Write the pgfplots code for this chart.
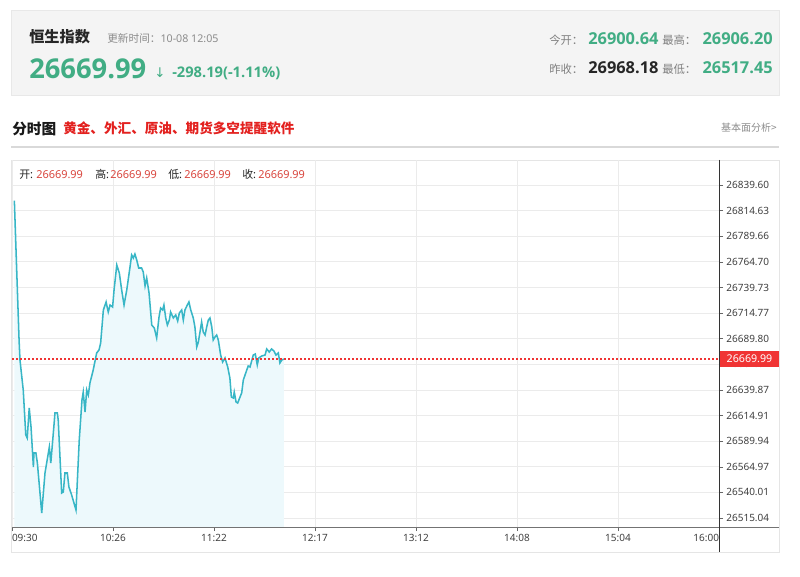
\documentclass[border=0pt]{standalone}
\usepackage{pgfplots}
\usepackage{pgfplotstable}
\pgfplotsset{compat=1.18}
\usepackage{fontspec}
\setmainfont{Noto Sans}
\newfontfamily\cjk{Noto Sans CJK SC}
\newfontfamily\numfont{Open Sans}
\newfontfamily\arrowfont{DejaVu Sans}
\newcommand\fs[1]{\fontsize{#1}{#1}\selectfont}

\definecolor{upgreen}{HTML}{41AD84}
\definecolor{titlered}{HTML}{E3211F}
\definecolor{legred}{HTML}{D9453D}
\definecolor{lastred}{HTML}{F03434}
\definecolor{linecyan}{HTML}{38B6C6}
\definecolor{fillcyan}{HTML}{EDF9FC}
\definecolor{gridgray}{HTML}{EBEBEB}
\definecolor{boxgray}{HTML}{F4F4F4}

% minutes after 09:30, index level
\pgfplotstableread{
t v
1.3 26824.3
3.9 26688.5
4.4 26669.0
6.2 26639.8
7.6 26595.9
8.4 26593.0
9.5 26622.3
10.5 26603.7
11.8 26564.7
12.1 26578.4
13.2 26578.4
14.0 26568.6
16.4 26519.9
18.2 26558.9
20.6 26584.2
21.4 26568.6
22.8 26597.9
23.7 26617.4
25.0 26617.4
25.5 26610.6
27.4 26539.4
28.3 26540.4
29.2 26558.9
30.5 26558.9
31.4 26545.3
32.9 26537.5
35.3 26522.8
37.1 26591.1
38.6 26630.0
39.3 26637.8
40.3 26618.4
41.2 26639.8
42.1 26634.9
43.0 26646.6
44.8 26659.3
46.7 26675.9
48.0 26678.8
48.9 26685.6
50.4 26717.8
51.9 26725.6
53.1 26715.8
54.1 26722.6
55.5 26720.7
56.3 26737.3
57.8 26761.6
59.2 26753.8
60.5 26737.3
61.8 26722.6
63.3 26737.3
65.1 26759.7
66.0 26771.4
66.9 26768.4
67.8 26772.3
68.8 26766.5
69.9 26758.7
71.5 26758.7
72.4 26754.8
73.4 26741.2
74.3 26749.0
75.6 26734.3
77.1 26703.1
78.5 26700.2
79.8 26690.5
81.1 26710.9
82.0 26719.7
83.1 26717.8
83.8 26722.6
84.8 26710.0
85.7 26703.1
86.8 26708.0
87.5 26715.8
89.0 26710.0
90.3 26712.9
91.4 26707.0
92.3 26714.8
93.6 26717.8
94.5 26708.0
95.4 26717.8
96.7 26722.6
97.6 26725.6
98.6 26717.8
100.0 26710.0
100.9 26701.2
101.9 26681.7
102.8 26686.6
103.7 26696.3
104.6 26706.1
105.5 26696.3
106.5 26693.4
107.4 26701.2
108.3 26708.0
109.2 26710.0
110.2 26701.2
111.0 26688.5
112.0 26691.5
112.9 26693.4
113.8 26688.5
115.1 26673.9
116.2 26667.1
117.5 26671.0
119.0 26662.2
120.2 26651.5
121.0 26633.0
122.1 26632.0
122.6 26637.8
123.6 26628.1
124.5 26627.1
125.8 26633.0
126.7 26636.9
127.6 26649.5
129.5 26659.3
130.3 26663.2
131.3 26662.2
133.1 26673.9
134.2 26674.9
135.3 26664.2
136.1 26671.0
137.7 26672.9
139.6 26673.9
140.5 26679.8
141.9 26676.8
143.2 26679.8
144.5 26677.8
145.6 26673.9
146.9 26675.9
147.8 26666.1
148.8 26669.0
150.0 26669.99
}\hsidata

\begin{document}
\begin{tikzpicture}
\begin{scope}[x=0.75pt,y=-0.75pt]
\useasboundingbox (0,0) rectangle (800,577);
\fill[white] (0,0) rectangle (800,577);
% header box
\draw[black!9,fill=boxgray] (11,10) rectangle (779,95);
\node[anchor=base west,inner sep=0,text=black!85] at (29,43) {\cjk\bfseries\fs{11.4}恒生指数};
\node[anchor=base west,inner sep=0,text=black!45] at (107,43) {\fs{8}{\cjk 更新时间：}10-08 12:05};
\node[anchor=base west,inner sep=0,text=upgreen] at (29,79) {\numfont\bfseries\fs{20.5}26669.99};
\node[anchor=base west,inner sep=0,text=upgreen] at (154,78) {\arrowfont\fs{10}↓};
\node[anchor=base west,inner sep=0,text=upgreen] at (172,78) {\numfont\bfseries\fs{11}-298.19(-1.11\%)};
\node[anchor=base west,inner sep=0,text=black!50] at (549,45) {\cjk\fs{8.5}今开：};
\node[anchor=base west,inner sep=0,text=upgreen] at (588,45) {\numfont\bfseries\fs{12.3}26900.64};
\node[anchor=base west,inner sep=0,text=black!50] at (662,45) {\cjk\fs{8.5}最高：};
\node[anchor=base east,inner sep=0,text=upgreen] at (773,45) {\numfont\bfseries\fs{12.3}26906.20};
\node[anchor=base west,inner sep=0,text=black!50] at (549,74) {\cjk\fs{8.5}昨收：};
\node[anchor=base west,inner sep=0,text=black!85] at (588,74) {\numfont\bfseries\fs{12.3}26968.18};
\node[anchor=base west,inner sep=0,text=black!50] at (662,74) {\cjk\fs{8.5}最低：};
\node[anchor=base east,inner sep=0,text=upgreen] at (773,74) {\numfont\bfseries\fs{12.3}26517.45};
% title row
\node[anchor=base west,inner sep=0,text=black!90] at (12,135) {\cjk\bfseries\fs{11}分时图};
\node[anchor=base west,inner sep=0,text=titlered] at (63,134) {\cjk\bfseries\fs{10.2}黄金、外汇、原油、期货多空提醒软件};
\node[anchor=base east,inner sep=0,text=black!45] at (777,132) {\cjk\fs{7.5}基本面分析>};
\draw[black!15,line width=1.2pt] (11,147) -- (779,147);
% chart panel
\draw[black!10] (11,160) rectangle (779,552);
\end{scope}

\begin{axis}[
  at={(9pt,-395.25pt)}, anchor=south west,
  scale only axis, width=530.25pt, height=275.25pt,
  xmin=0, xmax=390, ymin=26506.27, ymax=26863.97,
  axis x line*=bottom, axis y line*=right,
  axis line style={draw=none},
  scaled y ticks=false, scaled x ticks=false,
  grid=major, major grid style={gridgray,line width=0.6pt},
  tick align=outside, major tick length=3pt,
  tick style={black!60,line width=0.4pt},
  tick label style={font=\fs{7.5},text=black!75},
  xtick={0,55.714,111.429,167.143,222.857,278.571,334.286,390},
  xticklabels={\makebox[0pt][l]{09:30},10:26,11:22,12:17,13:12,14:08,15:04,\makebox[0pt][r]{16:00}},
  ytick={26515.04,26540.01,26564.97,26589.94,26614.91,26639.87,26664.84,26689.80,26714.77,26739.73,26764.70,26789.66,26814.63,26839.60},
  yticklabels={26515.04,26540.01,26564.97,26589.94,26614.91,26639.87,26664.84,26689.80,26714.77,26739.73,26764.70,26789.66,26814.63,26839.60},
  yticklabel style={anchor=west,xshift=-1pt},
  xticklabel style={yshift=1pt},
]
\addplot[draw=none,fill=fillcyan] table {\hsidata} \closedcycle;
\addplot[linecyan,line width=1.15pt] table {\hsidata};
% last-price reference line
\draw[color=lastred,dash pattern=on 1.5pt off 1.5pt,line width=0.8pt]
  (axis cs:0,26669.99) -- (axis cs:390,26669.99);
\end{axis}

\begin{scope}[x=0.75pt,y=-0.75pt]
\draw[black!55] (12,527) -- (779,527);
\draw[black!80] (719,160) -- (719,552);
\fill[lastred] (720,351) rectangle (779,367);
\node[text=white,inner sep=0] at (749.5,359) {\fs{8}26669.99};
% legend row
\node[anchor=base west,inner sep=0,text=black!85] at (19,179) {\fs{8.2}{\cjk 开}:};
\node[anchor=base west,inner sep=0,text=legred] at (36,179) {\fs{8.2}26669.99};
\node[anchor=base west,inner sep=0,text=black!85] at (95,179) {\fs{8.2}{\cjk 高}:};
\node[anchor=base west,inner sep=0,text=legred] at (110,179) {\fs{8.2}26669.99};
\node[anchor=base west,inner sep=0,text=black!85] at (168,179) {\fs{8.2}{\cjk 低}:};
\node[anchor=base west,inner sep=0,text=legred] at (184,179) {\fs{8.2}26669.99};
\node[anchor=base west,inner sep=0,text=black!85] at (242,179) {\fs{8.2}{\cjk 收}:};
\node[anchor=base west,inner sep=0,text=legred] at (258,179) {\fs{8.2}26669.99};
\end{scope}
\end{tikzpicture}
\end{document}
